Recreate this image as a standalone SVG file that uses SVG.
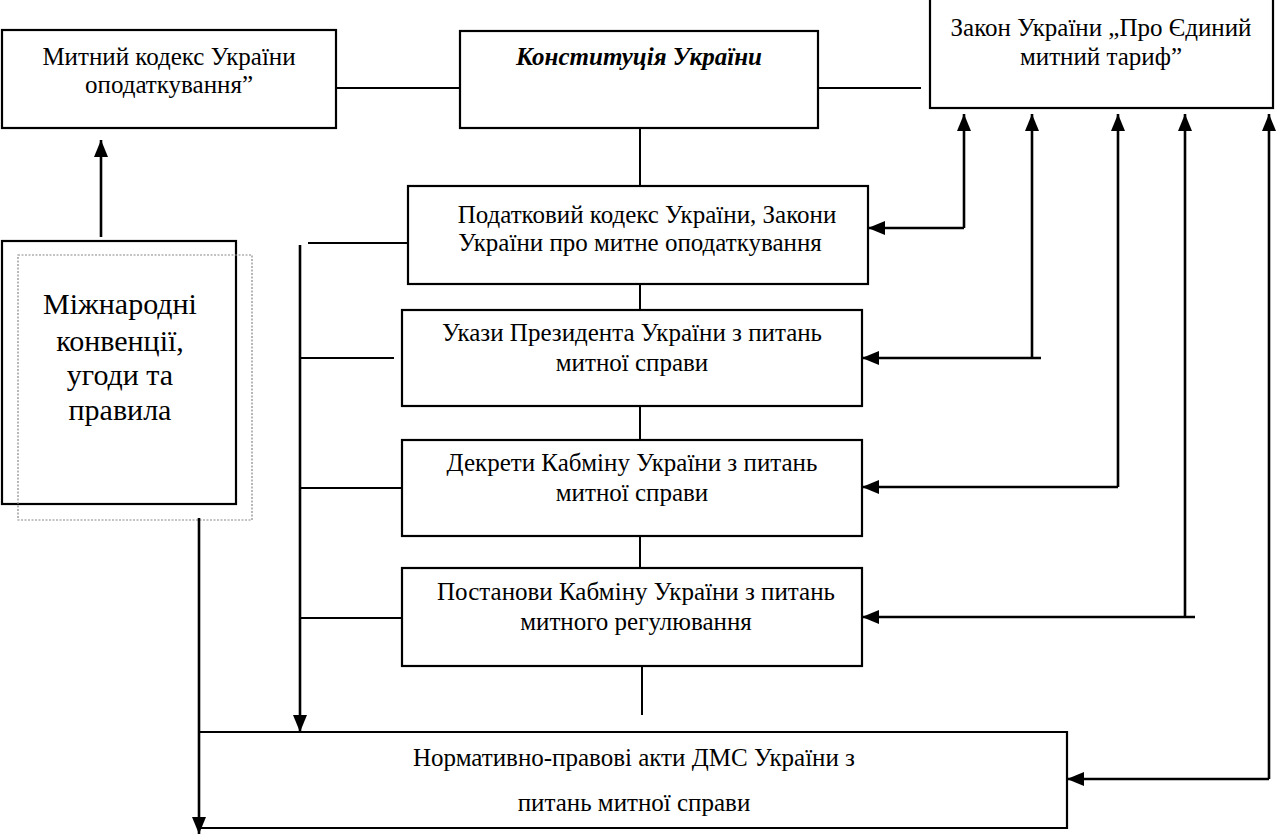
<svg xmlns="http://www.w3.org/2000/svg" width="1278" height="836" viewBox="0 0 1278 836">
<defs>
<marker id="ah" markerUnits="userSpaceOnUse" markerWidth="18" markerHeight="14" refX="17" refY="7" orient="auto">
<path d="M0,0 L17,7 L0,14 Z" fill="#000"/>
</marker>
<style>
.box{fill:#fff;stroke:#000;stroke-width:2.2}
.dash{fill:none;stroke:#888;stroke-width:1.2;stroke-dasharray:2 1.5}
.t{font-family:"Liberation Serif","Times New Roman",serif;font-size:25px;fill:#000;text-anchor:middle}
.bi{font-weight:bold;font-style:italic}
.big{font-size:30px}
.ln{fill:none;stroke:#000;stroke-width:2}
.ar{fill:none;stroke:#000;stroke-width:2.6;marker-end:url(#ah)}
</style>
</defs>
<rect width="1278" height="836" fill="#fff"/>
<g id="mytnyi-kodeks">
<rect class="box" x="2" y="30" width="334" height="98"/>
<text class="t" x="169" y="65">Митний кодекс України</text>
<text class="t" x="169" y="93">оподаткування”</text>
</g>
<g id="konstytutsiia">
<rect class="box" x="460" y="31" width="358" height="97"/>
<text class="t bi" x="639" y="65">Конституція України</text>
</g>
<g id="zakon-tarif">
<rect class="box" x="930" y="-2" width="343" height="110"/>
<text class="t" x="1101" y="36">Закон України „Про Єдиний</text>
<text class="t" x="1101" y="65">митний тариф”</text>
</g>
<g id="podatkovyi-kodeks">
<rect class="box" x="408" y="186" width="460" height="98"/>
<text class="t" x="647" y="223">Податковий кодекс України,  Закони</text>
<text class="t" x="640" y="251">України про митне оподаткування</text>
</g>
<g id="ukazy">
<rect class="box" x="402" y="310" width="460" height="96"/>
<text class="t" x="632" y="341">Укази Президента України з питань</text>
<text class="t" x="632" y="371">митної справи</text>
</g>
<g id="dekrety">
<rect class="box" x="402" y="440" width="460" height="96"/>
<text class="t" x="632" y="471">Декрети Кабміну України з питань</text>
<text class="t" x="632" y="501">митної справи</text>
</g>
<g id="postanovy">
<rect class="box" x="402" y="568" width="460" height="98"/>
<text class="t" x="636" y="600">Постанови Кабміну України з питань</text>
<text class="t" x="636" y="630">митного регулювання</text>
</g>
<g id="normatyvni-akty">
<path d="M199,732 L1067,732 L1067,828 L199,828" fill="none" stroke="#000" stroke-width="2.2"/>
<text class="t" x="634" y="766">Нормативно-правові акти ДМС України з</text>
<text class="t" x="634" y="811">питань митної справи</text>
</g>
<g id="mizhnarodni">
<rect class="box" x="2" y="241" width="234" height="263"/>
<rect class="dash" x="18" y="255" width="234" height="265"/>
<text class="t big" x="120" y="314">Міжнародні</text>
<text class="t big" x="120" y="351">конвенції,</text>
<text class="t big" x="120" y="385">угоди та</text>
<text class="t big" x="120" y="420">правила</text>
</g>
<g id="connectors">
<line class="ln" x1="336" y1="88" x2="460" y2="88"/>
<line class="ln" x1="818" y1="88" x2="921" y2="88"/>
<line class="ln" x1="640" y1="128" x2="640" y2="186"/>
<line class="ln" x1="640" y1="284" x2="640" y2="310"/>
<line class="ln" x1="640" y1="406" x2="640" y2="440"/>
<line class="ln" x1="640" y1="536" x2="640" y2="568"/>
<line class="ln" x1="642" y1="666" x2="642" y2="715"/>
<line class="ln" x1="308" y1="243" x2="408" y2="243"/>
<line class="ln" x1="301" y1="358" x2="394" y2="358"/>
<line class="ln" x1="301" y1="488" x2="402" y2="488"/>
<line class="ln" x1="301" y1="618" x2="402" y2="618"/>
<path class="ar" d="M300,245 L300,732"/>
<path class="ar" d="M199,518 L199,834"/>
<path class="ar" d="M101,237 L101,140"/>
<path class="ar" d="M964,228 L964,114"/>
<path class="ar" d="M964,228 L868,228"/>
<path class="ar" d="M1032,358 L1032,114"/>
<path class="ar" d="M1041,358 L862,358"/>
<path class="ar" d="M1118,487 L1118,114"/>
<path class="ar" d="M1118,487 L862,487"/>
<path class="ar" d="M1185,617 L1185,114"/>
<path class="ar" d="M1195,617 L862,617"/>
<path class="ar" d="M1269,779 L1269,114"/>
<path class="ar" d="M1269,779 L1067,779"/>
</g>
</svg>
